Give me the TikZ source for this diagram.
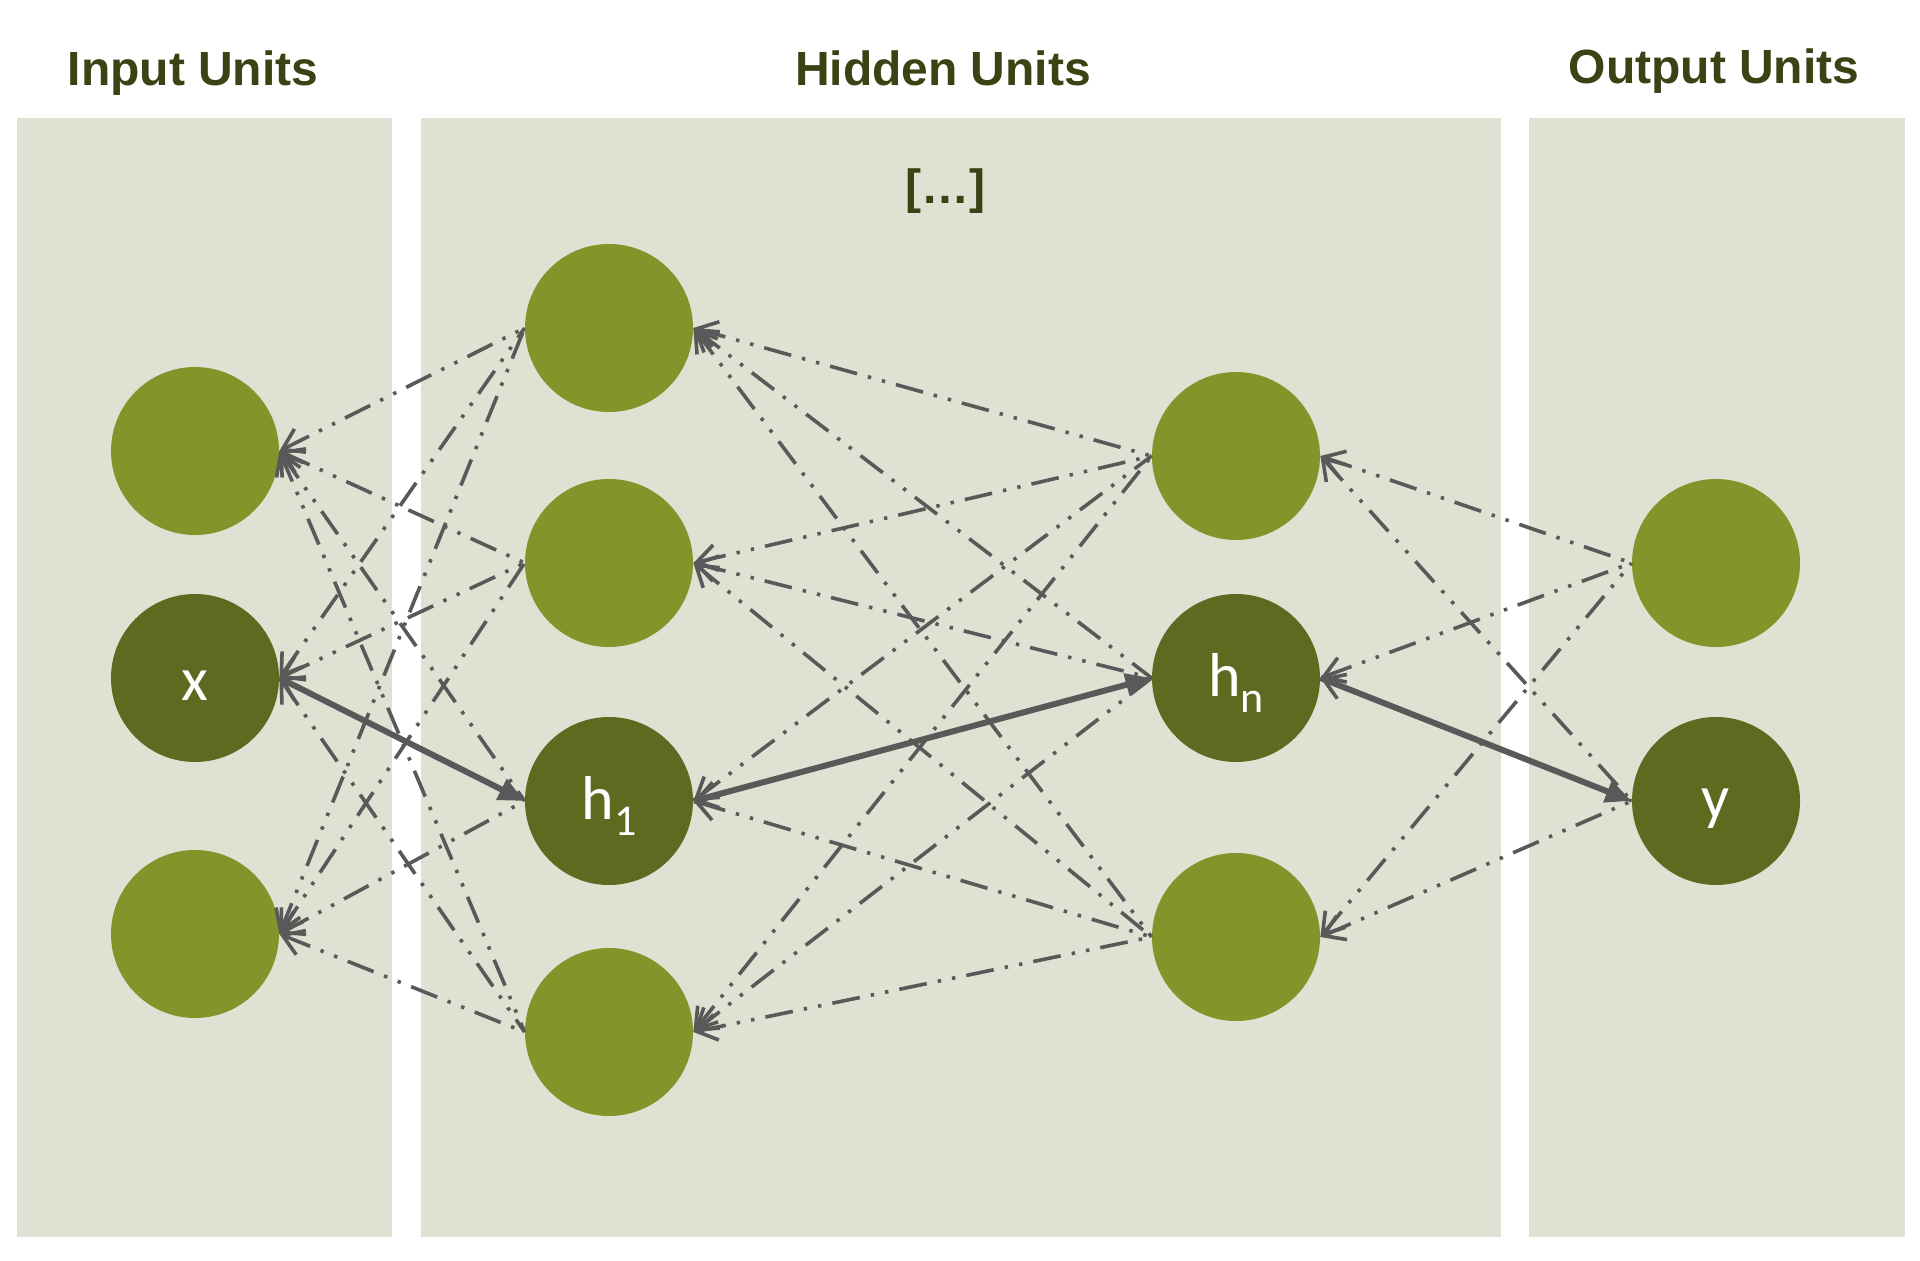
\documentclass[tikz,border=0pt]{standalone}
\usepackage{fontspec}
\setmainfont{Liberation Sans}
\newfontfamily\calib{Carlito}
\usetikzlibrary{arrows.meta}
\definecolor{panel}{HTML}{DFE1D3}
\definecolor{lightn}{HTML}{83942B}
\definecolor{darkn}{HTML}{5D6A1F}
\definecolor{titlec}{HTML}{3B4213}
\definecolor{linec}{HTML}{595959}
\begin{document}
\begin{tikzpicture}[x=0.5pt,y=-0.5pt,
 unit/.style={circle, minimum size=84pt, inner sep=0pt, draw=none},
 lunit/.style={unit, fill=lightn},
 dunit/.style={unit, fill=darkn, text=white, font=\calib\fontsize{31}{31}\selectfont, text depth=0pt},
 title/.style={font=\bfseries\fontsize{24}{24}\selectfont, text=titlec, anchor=base, inner sep=0pt},
 panelbox/.style={fill=panel, draw=none},
 conn/.style={draw=linec, line width=1.8pt, dash pattern=on 14pt off 5.6pt on 1.7pt off 5.6pt on 1.7pt off 5.6pt, {Straight Barb[length=10pt,width=13pt]}-},
 mainarrow/.style={draw=linec, line width=3pt, -{Triangle[length=13pt,width=11pt]}}
]
\useasboundingbox (0,0) rectangle (1920,1261);
\fill[white] (0,0) rectangle (1920,1261);
% panels
\fill[panelbox] (17,118) rectangle (392,1237);
\fill[panelbox] (421,118) rectangle (1501,1237);
\fill[panelbox] (1529,118) rectangle (1905,1237);
% titles
\node[title] (tin) at (193,86) {Input Units};
\node[title] (thid) at (943,86) {Hidden Units};
\node[title] (tout) at (1714,84) {Output Units};
\node[title] (dots) at (945,204) {[…]};
% units
\node[lunit] (I1) at (195,451) {};
\node[dunit, text height=22pt] (I2) at (195,678) {x};
\node[lunit] (I3) at (195,934) {};
\node[lunit] (A1) at (609,328) {};
\node[lunit] (A2) at (609,563) {};
\node[dunit, text height=18pt] (A3) at (609,801) {h\raisebox{-8pt}{\fontsize{22}{22}\selectfont 1}};
\node[lunit] (A4) at (609,1032) {};
\node[lunit] (B1) at (1236,456) {};
\node[dunit, text height=18pt] (B2) at (1236,678) {h\raisebox{-8pt}{\fontsize{22}{22}\selectfont n}};
\node[lunit] (B3) at (1236,937) {};
\node[lunit] (O1) at (1716,563) {};
\node[dunit, text height=17pt] (O2) at (1716,801) {y};
% connections
\foreach \i in {I1,I2,I3}{\foreach \a in {A1,A2,A3,A4}{\draw[conn] (\i.east) -- (\a.west);}}
\foreach \a in {A1,A2,A3,A4}{\foreach \b in {B1,B2,B3}{\draw[conn] (\a.east) -- (\b.west);}}
\foreach \b in {B1,B2,B3}{\foreach \o in {O1,O2}{\draw[conn] (\b.east) -- (\o.west);}}
% main path
\draw[mainarrow] (I2.east) -- (A3.west);
\draw[mainarrow] (A3.east) -- (B2.west);
\draw[mainarrow] (B2.east) -- (O2.west);
\end{tikzpicture}
\end{document}
